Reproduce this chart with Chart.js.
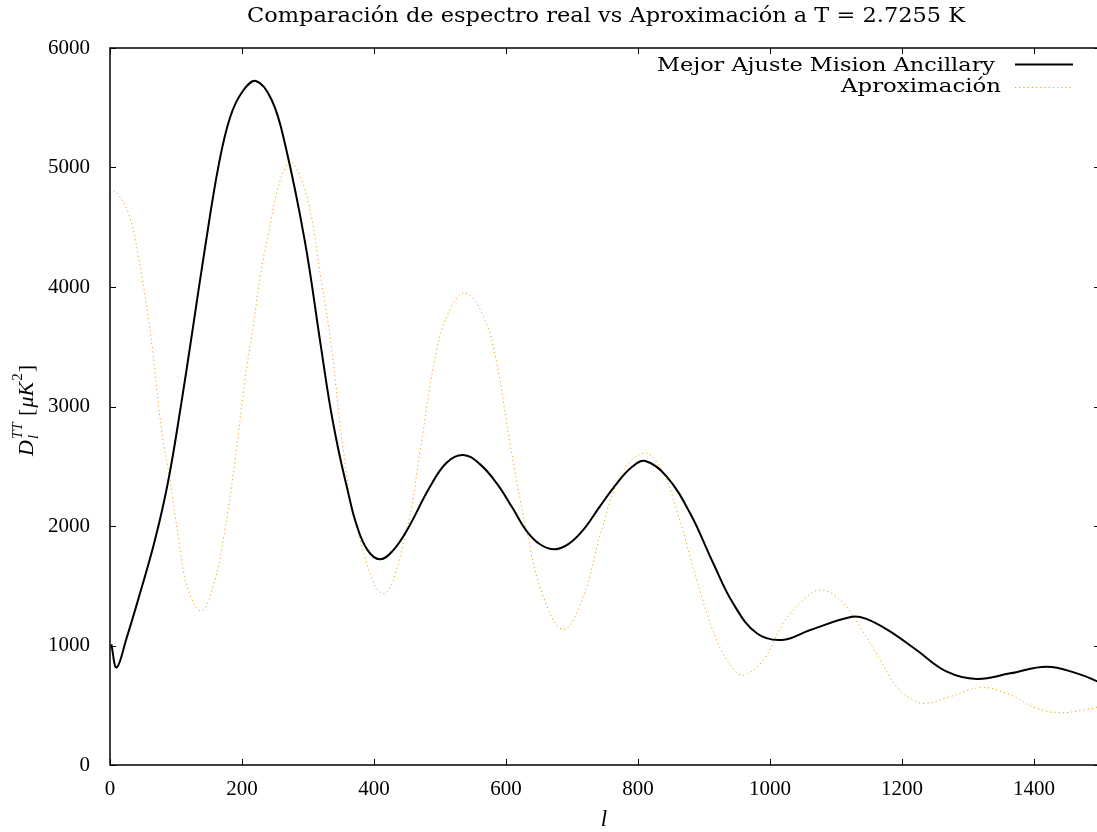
<!DOCTYPE html>
<html>
<head>
<meta charset="utf-8">
<script src="https://cdn.jsdelivr.net/npm/chart.js@4"></script>
<style>
html,body{margin:0;padding:0;background:#fff;overflow:hidden;}
#wrap{width:1100px;height:832px;}
</style>
</head>
<body>
<div id="wrap"><canvas id="c" width="1100" height="832"></canvas></div>
<script>
// ---- Data ----
const titleText = 'Comparación de espectro real vs Aproximación a T = 2.7255 K';
const seriesNames = ['Mejor Ajuste Mision Ancillary', 'Aproximación'];
const xTicks = [0, 200, 400, 600, 800, 1000, 1200, 1400];
const yTicks = [0, 1000, 2000, 3000, 4000, 5000, 6000];

const bestFitL = [2, 10, 25, 43, 68, 88, 107, 124, 144, 165, 182, 200, 221, 245, 265, 295, 318, 333, 346, 360, 373, 390, 409, 428, 449.5, 485, 510, 535, 560, 586, 610, 631, 652, 674, 695, 717, 742, 768, 790, 811, 843.5, 879, 914, 944, 980, 1018, 1061, 1124, 1145, 1180, 1222, 1268, 1313, 1364, 1419, 1465, 1500];
const bestFitD = [1010, 817, 1060, 1390, 1880, 2370, 2990, 3600, 4330, 5030, 5420, 5630, 5724, 5565, 5200, 4390, 3560, 3020, 2640, 2300, 2020, 1800, 1721, 1790, 1960, 2330, 2530, 2594, 2520, 2357, 2150, 1960, 1845, 1805, 1850, 1967, 2162, 2357, 2490, 2544, 2413, 2106, 1688, 1353, 1102, 1046, 1130, 1241, 1225, 1125, 962, 781, 720, 767, 823, 767, 690];

const approxL = [0, 8, 28, 43, 55.5, 64.6, 78, 91, 103.5, 118.6, 139, 159, 174, 189, 204.5, 214.6, 235, 270, 295.5, 320.7, 336, 353.5, 373.7, 414, 449.5, 470, 495, 515, 538, 566, 586, 606, 631, 656.5, 687, 717, 742, 773, 808, 833, 858.6, 889, 919, 944, 960, 990, 1020, 1050.5, 1076, 1106, 1136, 1167, 1192, 1217, 1237, 1273, 1318, 1358.6, 1404, 1439, 1475, 1500];
const approxD = [4780, 4800, 4616, 4254, 3835, 3473, 2803, 2385, 1910, 1464, 1290, 1548, 1967, 2525, 3222, 3584, 4310, 5040, 4812, 4031, 3473, 2636, 1994, 1435, 1967, 2636, 3473, 3808, 3950, 3752, 3361, 2692, 1967, 1408, 1135, 1408, 1910, 2413, 2610, 2497, 2134, 1548, 1046, 809, 753, 879, 1186, 1381, 1464, 1381, 1157, 879, 655, 544, 516, 572, 647, 600, 474, 438, 460, 490];

const toPts = (xs, ys) => xs.map((x, i) => ({x: x, y: ys[i]}));

const SERIF = '"Liberation Serif", "DejaVu Serif", serif';
const LEG = '"DejaVu Serif", serif';

function fitText(ctx, text, font, targetW, x, y, align) {
  ctx.save();
  ctx.font = font;
  const w = ctx.measureText(text).width;
  const sx = targetW / w;
  ctx.textBaseline = 'middle';
  ctx.textAlign = 'left';
  let x0 = align === 'right' ? x - targetW : (align === 'center' ? x - targetW / 2 : x);
  ctx.translate(x0, y);
  ctx.scale(sx, 1);
  ctx.fillText(text, 0, 0);
  ctx.restore();
}

const decor = {
  id: 'decor',
  afterDraw(chart) {
    const ctx = chart.ctx;
    const a = chart.chartArea;
    const xs = chart.scales.x, ys = chart.scales.y;
    ctx.save();
    ctx.fillStyle = '#000';
    // title
    fitText(ctx, titleText, '20px "DejaVu Serif", serif', 718, 606, 17, 'center');
    // border
    ctx.strokeStyle = '#000';
    ctx.lineWidth = 1.5;
    ctx.strokeRect(a.left, a.top, a.right - a.left, a.bottom - a.top);
    // inward ticks, mirrored
    ctx.lineWidth = 1;
    const tl = 6;
    ctx.beginPath();
    xTicks.forEach(v => {
      const px = Math.round(xs.getPixelForValue(v)) + 0.5;
      ctx.moveTo(px, a.bottom); ctx.lineTo(px, a.bottom - tl);
      ctx.moveTo(px, a.top); ctx.lineTo(px, a.top + tl);
    });
    yTicks.forEach(v => {
      const py = Math.round(ys.getPixelForValue(v)) + 0.5;
      ctx.moveTo(a.left, py); ctx.lineTo(a.left + tl, py);
      ctx.moveTo(a.right, py); ctx.lineTo(a.right - tl, py);
    });
    ctx.stroke();
    // legend
    fitText(ctx, seriesNames[0], '19px ' + LEG, 338, 995, 66, 'right');
    fitText(ctx, seriesNames[1], '19px ' + LEG, 160, 1001, 87, 'right');
    ctx.strokeStyle = '#000'; ctx.lineWidth = 2;
    ctx.beginPath(); ctx.moveTo(1015, 64.5); ctx.lineTo(1073, 64.5); ctx.stroke();
    ctx.strokeStyle = '#f0a000'; ctx.lineWidth = 1; ctx.setLineDash([1.2, 3]);
    ctx.beginPath(); ctx.moveTo(1015, 87.5); ctx.lineTo(1072, 87.5); ctx.stroke();
    ctx.setLineDash([]);
    // x label
    ctx.font = 'italic 23px ' + SERIF;
    ctx.textAlign = 'center';
    ctx.textBaseline = 'middle';
    ctx.fillText('l', 604, 820);
    // y label: D_l^{TT} [μK^2]
    ctx.translate(27, 410);
    ctx.rotate(-Math.PI / 2);
    const parts = [
      {t: 'D', f: 'italic 22px ' + SERIF, dy: 0},
      {t: 'TT', f: 'italic 15px ' + SERIF, dy: -9, sub: 'l'},
      {t: ' [', f: '22px ' + SERIF, dy: 0},
      {t: 'μK', f: 'italic 22px ' + SERIF, dy: 0},
      {t: '2', f: '15px ' + SERIF, dy: -9},
      {t: ']', f: '22px ' + SERIF, dy: 0}
    ];
    let total = 0;
    parts.forEach(p => { ctx.font = p.f; p.w = ctx.measureText(p.t).width + 1; total += p.w; });
    let cx = -total / 2;
    ctx.textAlign = 'left';
    parts.forEach(p => {
      ctx.font = p.f;
      ctx.fillText(p.t, cx, p.dy);
      if (p.sub) { ctx.fillText(p.sub, cx, 7); }
      cx += p.w;
    });
    ctx.restore();
  }
};

new Chart(document.getElementById('c'), {
  type: 'line',
  data: {
    datasets: [
      {label: seriesNames[0], data: toPts(bestFitL, bestFitD), borderColor: '#000', borderWidth: 2, pointRadius: 0, tension: 0.4, fill: false},
      {label: seriesNames[1], data: toPts(approxL, approxD), borderColor: '#f0a000', borderWidth: 1, borderDash: [1.2, 3], pointRadius: 0, tension: 0.4, fill: false}
    ]
  },
  options: {
    responsive: false,
    animation: false,
    layout: {padding: {top: 48, right: 0, left: 0, bottom: 0}},
    plugins: {legend: {display: false}, title: {display: false}, tooltip: {enabled: false}},
    scales: {
      x: {
        type: 'linear', min: 0, max: 1500,
        afterBuildTicks: s => { s.ticks = xTicks.map(v => ({value: v})); },
        afterFit: s => { s.height = 67; },
        grid: {display: false}, border: {display: false},
        ticks: {color: '#000', font: {family: SERIF, size: 21}, padding: 4, maxRotation: 0, callback: v => String(v)}
      },
      y: {
        type: 'linear', min: 0, max: 6000,
        afterBuildTicks: s => { s.ticks = yTicks.map(v => ({value: v})); },
        afterFit: s => { s.width = 110; },
        grid: {display: false}, border: {display: false},
        ticks: {color: '#000', font: {family: SERIF, size: 21}, padding: 12, callback: v => String(v)}
      }
    }
  },
  plugins: [decor]
});
</script>
</body>
</html>
